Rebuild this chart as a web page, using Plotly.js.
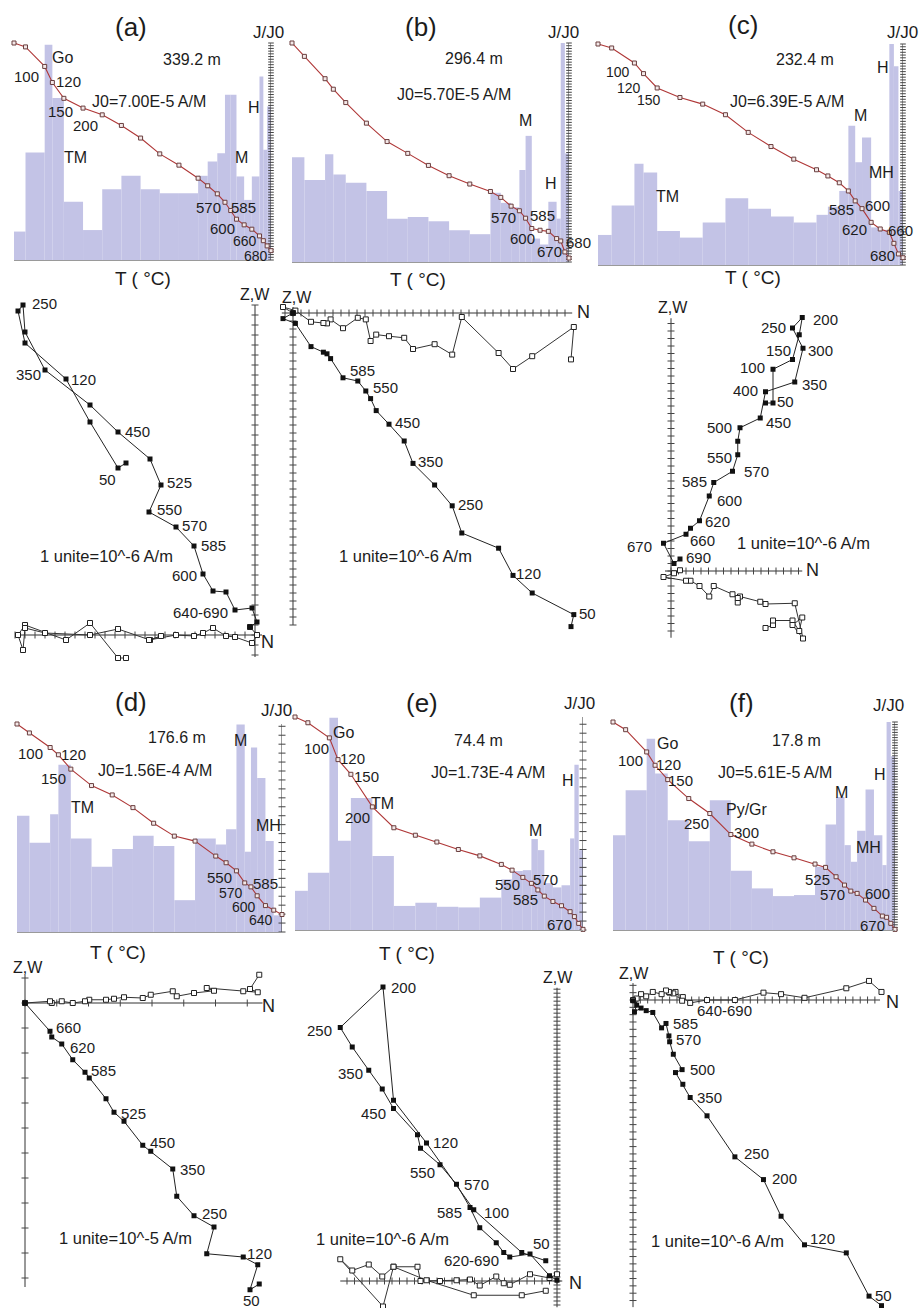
<!DOCTYPE html>
<html><head><meta charset="utf-8">
<script src="https://cdn.plot.ly/plotly-3.0.1.min.js"></script>
<style>html,body{margin:0;padding:0;background:#fff}#chart{width:921px;height:1308px}</style>
</head><body><div id="chart"></div>
<script>
// ---------------- DATA ----------------
// thermal demagnetisation steps (°C); first = NRM (room temperature)
const stepsT  = [20,50,100,120,150,200,250,300,350,400,450,500,525,550,570,585,600,620,640,660,670,680,690];
const stepsTd = [20,50,100,120,150,200,250,300,350,400,450,500,525,550,570,585,600,620,640,660];
const zStepsD = [20,50,100,120,150,200,250,300,350,400,450,500,525,550,570,585,600,620,640,660,680];

// normalised intensity J/J0
const jA = [1.0,0.982,0.892,0.818,0.745,0.700,0.669,0.620,0.562,0.489,0.437,0.377,0.342,0.305,0.266,0.228,0.188,0.162,0.142,0.111,0.089,0.065,0.043];
const jB = [1.0,0.939,0.837,0.789,0.728,0.634,0.550,0.496,0.441,0.394,0.356,0.322,0.295,0.255,0.234,0.200,0.153,0.145,0.140,0.107,0.096,0.046,0.018];
const jC = [1.0,0.982,0.914,0.866,0.801,0.758,0.728,0.680,0.600,0.536,0.479,0.431,0.403,0.372,0.335,0.290,0.255,0.193,0.163,0.148,0.098,0.050,0.033];
const jD = [1.0,0.957,0.887,0.852,0.783,0.704,0.659,0.598,0.523,0.461,0.437,0.365,0.333,0.294,0.236,0.217,0.174,0.127,0.105,0.084];
const jE = [1.0,0.973,0.902,0.800,0.731,0.578,0.480,0.445,0.413,0.378,0.348,0.308,0.281,0.247,0.219,0.188,0.159,0.134,0.114,0.086,0.063,0.031,0.003];
const jF = [1.0,0.963,0.856,0.792,0.723,0.632,0.560,0.459,0.413,0.376,0.347,0.317,0.301,0.256,0.216,0.187,0.176,0.144,0.104,0.067,0.061,0.032,0.003];

// unblocking spectrum (bar height per step interval, relative)
const hA = [0.131,0.495,0.992,0.746,0.269,0.138,0.326,0.388,0.326,0.308,0.308,0.388,0.454,0.492,0.762,0.762,0.385,0.277,0.385,0.846,0.508,0.708];
const hB = [0.478,0.374,0.492,0.400,0.362,0.324,0.198,0.206,0.186,0.145,0.127,0.316,0.270,0.250,0.420,0.576,0.107,0.080,0.275,0.198,1.0,0.496];
const hC = [0.136,0.269,0.458,0.418,0.154,0.124,0.192,0.302,0.254,0.219,0.192,0.227,0.264,0.335,0.630,0.465,0.577,0.170,0.159,1.0,0.899,0.335];
const hD = [0.559,0.429,0.566,0.804,0.450,0.314,0.399,0.463,0.413,0.153,0.450,0.421,0.494,0.997,0.386,0.887,0.740,0.437,0.080];
const hE = [0.184,0.269,0.997,0.419,0.620,0.347,0.113,0.128,0.109,0.106,0.152,0.238,0.277,0.281,0.427,0.375,0.220,0.200,0.210,0.430,0.776,0.375];
const hF = [0.456,0.672,0.920,0.752,0.528,0.427,0.624,0.285,0.200,0.163,0.168,0.304,0.507,0.640,0.408,0.328,0.477,0.675,0.456,0.312,1.0,0.835];

// Zijderveld diagrams (units of the diagram): N component, vertical (Z) and horizontal (W) projections
const zA_N = [-12.9,-13.7,-16.5,-18.9,-23.0,-23.7,-23.2,-23.0,-21.0,-16.5,-13.7,-10.5,-9.4,-10.6,-7.9,-6.1,-5.2,-4.2,-2.9,-2.0,-0.3,0.2,-0.5];
const zA_Z = [17.2,16.7,21.3,25.6,29.2,32.4,33.0,30.3,26.5,23.0,20.3,17.6,15.0,12.3,10.8,8.9,6.1,4.4,4.3,2.5,2.7,1.3,0.8];
const zA_W = [-2.3,-2.3,1.2,-0.5,1.0,0.0,-1.5,0.7,0.2,0.0,0.6,-0.5,-0.1,-0.5,0.0,-0.1,0.2,0.7,-0.1,-0.2,-0.8,0.0,0.8];

const zB_N = [34.75,35.1,29.9,27.5,25.7,21.1,19.9,17.7,15.0,13.9,12.0,10.4,9.7,9.1,8.1,6.25,4.7,4.25,3.8,2.25,0.3,-1.25,0];
const zB_Z = [-39.2,-37.7,-35.0,-32.8,-29.4,-27.5,-24.1,-21.5,-18.8,-16.0,-13.9,-12.2,-10.7,-9.75,-8.5,-8.1,-5.7,-5.1,-4.9,-4.2,-1.3,-0.7,0];
const zB_W = [-5.8,-1.75,-5.4,-7.0,-5.0,-0.5,-5.2,-3.9,-4.5,-3.1,-2.9,-2.7,-3.5,-0.8,-0.6,-1.9,-0.8,-1.3,-1.25,-1.1,0.3,0.75,0];

const zC_N = [12.6,13.6,13.6,16.2,17.1,17.5,16.2,17.6,16.5,12.6,11.9,9.2,8.9,8.9,8.2,5.7,5.1,3.8,2.6,2.0,-1.0,0.4,1.2];
const zC_Z = [22.4,22.4,26.9,28.2,31.5,33.8,32.4,29.7,25.2,23.9,20.4,19.1,17.3,15.5,13.3,11.8,10.0,6.7,5.7,4.9,3.7,1.0,1.6];
const zC_W = [-7.6,-7.2,-6.6,-6.6,-8.0,-6.2,-7.2,-9.0,-4.3,-4.4,-4.1,-3.4,-4.2,-3.6,-3.1,-2.0,-3.4,-2.0,-1.3,-1.3,-0.8,-0.3,0.1];

const zD_N = [9.37,9.0,9.31,8.73,7.27,7.56,6.76,6.07,5.91,5.03,4.71,3.96,3.56,3.24,2.57,2.4,1.91,1.47,1.07,1.0,0];
const zD_Z = [-11.24,-11.47,-10.47,-10.16,-10.03,-8.96,-8.51,-7.73,-6.64,-5.93,-5.69,-4.73,-4.37,-3.83,-3.0,-2.77,-2.27,-1.64,-1.36,-1.13,0];
const zD_W = [1.13,0.56,0.43,0.47,0.6,0.49,0.4,0.27,0.47,0.33,0.2,0.23,0.17,0.13,0.13,0.07,0,0.07,0,0.07,0];

const zE_N = [-1.5,-4.7,-11.1,-17.4,-21.8,-23.2,-28.9,-27.3,-25.1,-23.3,-21.8,-18.6,-18.2,-15.6,-13.4,-11.6,-10.3,-8.1,-7.1,-6.3,-3.6,-1.0,0];
const zE_Z = [2.7,3.8,9.5,18.4,24.1,39.2,33.8,31.2,28.1,25.6,23.0,19.5,17.7,15.5,12.9,9.8,7.1,5.1,3.8,3.2,3.6,0.7,0.1];
const zE_W = [-1.3,-1.9,-1.9,0.1,1.9,-3.4,2.9,1.4,2.2,0.6,1.9,1.9,0,0,0.1,0.2,-0.6,0.6,-0.3,-0.5,0.9,0.4,0.9];

const zF_N = [33.9,32.2,29.1,23.4,20.2,17.8,13.9,10.1,7.8,6.8,5.8,6.7,5.5,5.0,4.9,4.5,3.9,2.7,1.8,1.1,0.2,0.5,0];
const zF_Z = [-41.7,-40.4,-34.5,-33.4,-29.5,-24.5,-21.4,-15.8,-13.3,-11.5,-9.9,-9.5,-7.4,-5.7,-4.9,-3.2,-3.8,-1.7,-1.45,-1.1,-1.6,-0.7,-0.1];
const zF_W = [1.1,2.6,1.6,0.3,0.8,1.0,0,0,-0.4,0.4,1.1,-0.1,0.9,1.0,1.1,1.3,0.8,1.1,0.5,0.8,0,0.2,0];

// ---------------- LAYOUT / STYLE ----------------
const W = 921, HH = 1308;
const FONT = 'Liberation Sans, Arial, Helvetica, sans-serif';
const INK = '#1c1c1c';
const LAV = 'rgb(195,195,230)';
const traces = [];
const layout = {
  width: W, height: HH, margin: {l:0, r:0, t:0, b:0}, showlegend: false,
  paper_bgcolor: '#ffffff', plot_bgcolor: 'rgba(0,0,0,0)',
  font: {family: FONT, color: INK}, annotations: []
};
let axN = 0;
function newAxes(xd, yd, xr, yr, xopts, yopts) {
  axN++;
  const xk = axN === 1 ? 'xaxis' : 'xaxis' + axN;
  const yk = axN === 1 ? 'yaxis' : 'yaxis' + axN;
  const xid = axN === 1 ? 'x' : 'x' + axN;
  const yid = axN === 1 ? 'y' : 'y' + axN;
  layout[xk] = Object.assign({domain: xd, range: xr, anchor: yid, showgrid: false, zeroline: false,
    showticklabels: false, ticks: '', fixedrange: true}, xopts || {});
  layout[yk] = Object.assign({domain: yd, range: yr, anchor: xid, showgrid: false, zeroline: false,
    showticklabels: false, ticks: '', fixedrange: true}, yopts || {});
  return {x: xid, y: yid};
}

function histPanel(c) {
  const T = c.T, n = T.length;
  const id = newAxes([c.x0 / W, c.x1 / W], [(HH - c.yBot) / HH, (HH - c.yTop) / HH],
    [T[0], T[n - 1]], [0, 1],
    {showline: true, linecolor: '#9a9a9a', linewidth: 1}, {visible: false});
  const mids = c.H.map((h, i) => (T[i] + T[i + 1]) / 2);
  const wid = c.H.map((h, i) => T[i + 1] - T[i]);
  traces.push({type: 'bar', x: mids, y: c.H, width: wid, marker: {color: LAV, line: {width: 0}},
    xaxis: id.x, yaxis: id.y, hoverinfo: 'skip'});
  const Tm = T[n - 1];
  traces.push({type: 'scatter', mode: 'lines', x: [Tm, Tm], y: [0, 1], line: {color: '#333', width: 1},
    xaxis: id.x, yaxis: id.y, cliponaxis: false, hoverinfo: 'skip'});
  const tk = [];
  for (let v = 0; v <= 1.0001; v += c.tick) tk.push(v);
  traces.push({type: 'scatter', mode: 'markers', x: tk.map(() => Tm), y: tk,
    marker: {symbol: 'line-ew', size: c.tsz, line: {width: 1, color: '#444'}},
    xaxis: id.x, yaxis: id.y, cliponaxis: false, hoverinfo: 'skip'});
  traces.push({type: 'scatter', mode: 'lines+markers', x: T, y: c.J,
    line: {color: 'rgb(175,55,55)', width: 1.1},
    marker: {symbol: 'square', size: 4, color: '#f4e8e8', line: {width: 1, color: '#6a3f3f'}},
    xaxis: id.x, yaxis: id.y, cliponaxis: false, hoverinfo: 'skip'});
}

function zijPanel(c) {
  const p = 8, s = c.s;
  let x0 = c.ox + c.xa[0] * s - p, x1 = c.ox + c.xa[1] * s + p;
  let yt = c.oy - c.ya[1] * s - p, yb = c.oy - c.ya[0] * s + p;
  x0 = Math.max(0, x0); x1 = Math.min(W, x1); yt = Math.max(0, yt); yb = Math.min(HH, yb);
  const xr = [(x0 - c.ox) / s, (x1 - c.ox) / s];
  const yr = [(c.oy - yb) / s, (c.oy - yt) / s];
  const id = newAxes([x0 / W, x1 / W], [(HH - yb) / HH, (HH - yt) / HH], xr, yr, {visible: false}, {visible: false});
  const base = {xaxis: id.x, yaxis: id.y, cliponaxis: false, hoverinfo: 'skip'};
  traces.push(Object.assign({type: 'scatter', mode: 'lines', x: [c.xa[0], c.xa[1]], y: [0, 0],
    line: {color: '#333', width: 1}}, base));
  traces.push(Object.assign({type: 'scatter', mode: 'lines', x: [0, 0], y: [c.ya[0], c.ya[1]],
    line: {color: '#333', width: 1}}, base));
  const xt = [], yt2 = [];
  for (let k = Math.ceil(c.xa[0] / c.tx - 1e-6); k * c.tx <= c.xa[1] + 1e-6; k++) xt.push(k * c.tx);
  for (let k = Math.ceil(c.ya[0] / c.ty - 1e-6); k * c.ty <= c.ya[1] + 1e-6; k++) yt2.push(k * c.ty);
  traces.push(Object.assign({type: 'scatter', mode: 'markers', x: xt, y: xt.map(() => 0),
    marker: {symbol: 'line-ns', size: 5, line: {width: 1, color: '#444'}}}, base));
  traces.push(Object.assign({type: 'scatter', mode: 'markers', x: yt2.map(() => 0), y: yt2,
    marker: {symbol: 'line-ew', size: 5, line: {width: 1, color: '#444'}}}, base));
  traces.push(Object.assign({type: 'scatter', mode: 'lines+markers', x: c.N, y: c.Wc,
    line: {color: '#333', width: 1},
    marker: {symbol: 'square', size: 5, color: '#ffffff', line: {width: 1, color: '#222'}}}, base));
  traces.push(Object.assign({type: 'scatter', mode: 'lines+markers', x: c.N, y: c.Z,
    line: {color: '#222', width: 1},
    marker: {symbol: 'square', size: 5, color: '#111', line: {width: 0}}}, base));
}

function txt(s, x, y, size) {
  layout.annotations.push({text: s, x: x / W, y: 1 - y / HH, xref: 'paper', yref: 'paper',
    showarrow: false, xanchor: 'center', yanchor: 'middle', borderpad: 0,
    font: {size: size || 15, family: FONT, color: INK}});
}

// ---------------- PANELS ----------------
[
  {T: stepsT,  J: jA, H: hA, x0: 14,  x1: 271, yTop: 43,  yBot: 260, tick: 0.0125, tsz: 4},
  {T: stepsT,  J: jB, H: hB, x0: 292, x1: 569, yTop: 43,  yBot: 262, tick: 0.0125, tsz: 4},
  {T: stepsT,  J: jC, H: hC, x0: 598, x1: 903, yTop: 44,  yBot: 265, tick: 0.0125, tsz: 4},
  {T: stepsTd, J: jD, H: hD, x0: 17,  x1: 282, yTop: 724, yBot: 932, tick: 0.043,  tsz: 5},
  {T: stepsT,  J: jE, H: hE, x0: 295, x1: 583, yTop: 717, yBot: 930, tick: 0.042,  tsz: 5},
  {T: stepsT,  J: jF, H: hF, x0: 613, x1: 895, yTop: 722, yBot: 930, tick: 0.0125, tsz: 4}
].forEach(histPanel);

[
  {N: zA_N, Z: zA_Z, Wc: zA_W, ox: 255, oy: 635,  s: 10,   xa: [-24, 0.7],   ya: [-2.2, 33],     tx: 1,    ty: 1},
  {N: zB_N, Z: zB_Z, Wc: zB_W, ox: 293, oy: 313,  s: 8,    xa: [-1.4, 34.9], ya: [-39, 0.75],    tx: 1,    ty: 1},
  {N: zC_N, Z: zC_Z, Wc: zC_W, ox: 671, oy: 571,  s: 7.5,  xa: [-0.8, 17.5], ya: [-8.9, 33.7],   tx: 1,    ty: 1},
  {N: zD_N, Z: zD_Z, Wc: zD_W, ox: 25,  oy: 1003, s: 25,   xa: [0, 9.5],     ya: [-11.36, 1.12], tx: 1.27, ty: 1},
  {N: zE_N, Z: zE_Z, Wc: zE_W, ox: 557, oy: 1281, s: 7.5,  xa: [-28.9, 0.7], ya: [-3.5, 39.1],   tx: 1,    ty: 0.533},
  {N: zF_N, Z: zF_Z, Wc: zF_W, ox: 633, oy: 1000, s: 7.33, xa: [0, 33.7],    ya: [-41.9, 2.3],   tx: 1,    ty: 1}
].forEach(zijPanel);

// ---------------- TEXT ----------------
const labels = [
  ['(a)',131,27,26],['J/J0',268,32,17],['339.2 m',192,60,16],['J0=7.00E-5 A/M',149,102,16],
  ['Go',62,57,16],['TM',75,157,16],['M',241,157,16],['H',254,108,16],
  ['100',26,76],['120',68,82],['150',60,112],['200',85,126],['570',208,208],['585',243,207],
  ['600',222,228],['660',245,241,14],['680',256,256,14],['T ( °C)',143,278,19],
  ['(b)',421,27,26],['J/J0',563,32,17],['296.4 m',474,59,16],['J0=5.70E-5 A/M',454,94,16],
  ['M',525,120,16],['H',551,183,16],
  ['570',503,218],['585',542,215],['600',522,238],['670',549,252],['680',578,243],['T ( °C)',418,279,19],
  ['(c)',743,25,26],['J/J0',902,32,17],['232.4 m',805,60,16],['J0=6.39E-5 A/M',787,102,16],
  ['H',883,68,16],['M',860,115,16],['MH',881,172,16],['TM',667,196,16],
  ['100',618,72,14],['120',629,88,14],['150',649,100,14],['585',841,209],['600',877,205],['620',854,229],
  ['660',900,230],['680',882,256],['T ( °C)',753,277,19],
  ['(d)',131,702,26],['J/J0',276,710,17],['176.6 m',177,738,16],['J0=1.56E-4 A/M',155,770,16],
  ['M',240,740,16],['TM',82,807,16],['MH',268,825,16],
  ['100',30,753],['120',73,754],['150',53,778],['550',219,877],['570',231,893,14],['585',265,883],
  ['600',244,907,14],['640',261,920,14],['T ( °C)',118,952,19],
  ['(e)',422,703,26],['J/J0',579,703,17],['74.4 m',478,740,16],['J0=1.73E-4 A/M',488,772,16],
  ['Go',343,733,16],['TM',382,803,16],['M',535,830,16],['H',568,780,16],
  ['100',316,748],['120',352,758],['150',366,776],['200',357,817],['550',507,884],['570',545,879],
  ['585',525,899],['670',559,924],['T ( °C)',407,953,19],
  ['(f)',741,703,26],['J/J0',888,705,17],['17.8 m',796,740,16],['J0=5.61E-5 A/M',775,772,16],
  ['Go',667,743,16],['Py/Gr',747,810,16],['M',841,792,16],['MH',868,847,16],['H',880,774,16],
  ['100',630,760],['120',668,764],['150',680,780],['250',696,823],['300',746,832],['525',817,879],
  ['570',832,894],['600',877,893],['670',872,925],['T ( °C)',741,957,19],
  ['250',44,303],['350',28,374],['120',83,379],['450',137,431],['50',107,479],['525',179,483],
  ['550',169,509],['570',194,525],['585',213,545],['600',184,575],['640-690',200,612],
  ['1 unite=10^-6 A/m',106,556,16.5],['N',267,642,18],['Z,W',255,295,16],
  ['585',362,370],['550',385,388],['450',407,422],['350',430,461],['250',470,504],['120',528,573],
  ['50',587,613],['1 unite=10^-6 A/m',405,556,16.5],['N',583,312,18],['Z,W',297,297,16],
  ['200',825,320],['250',773,328],['150',778,350],['300',820,350],['100',752,368],['350',814,384],
  ['400',745,390],['50',785,401],['450',778,422],['500',719,427],['550',719,457],['570',756,471],
  ['585',694,482],['600',729,500],['620',717,522],['660',702,541],['670',639,546],['690',698,557],
  ['1 unite=10^-6 A/m',803,543,16.5],['N',812,570,18],['Z,W',673,307,16],
  ['660',68,1027],['620',82,1047],['585',103,1070],['525',133,1113],['450',162,1142],['350',192,1169],
  ['250',214,1213],['120',259,1253],['50',251,1300],['1 unite=10^-5 A/m',125,1238,16.5],
  ['N',268,1006,18],['Z,W',28,967,16],
  ['200',403,987],['250',319,1030],['350',350,1073],['450',373,1113],['120',445,1142],['550',422,1172],
  ['570',476,1184],['585',449,1212],['100',496,1212],['50',541,1243],['620-690',471,1260],
  ['1 unite=10^-6 A/m',382,1239,16.5],['N',575,1283,18],['Z,W',558,977,16],
  ['640-690',724,1010],['585',685,1023],['570',688,1039],['500',702,1069],['350',709,1097],
  ['250',756,1153],['200',784,1178],['120',822,1238],['50',883,1295],
  ['1 unite=10^-6 A/m',717,1241,16.5],['N',892,1002,18],['Z,W',634,973,16]
];
labels.forEach(l => txt(l[0], l[1], l[2], l[3]));

Plotly.newPlot('chart', traces, layout, {staticPlot: true, displayModeBar: false});
</script>
</body></html>
